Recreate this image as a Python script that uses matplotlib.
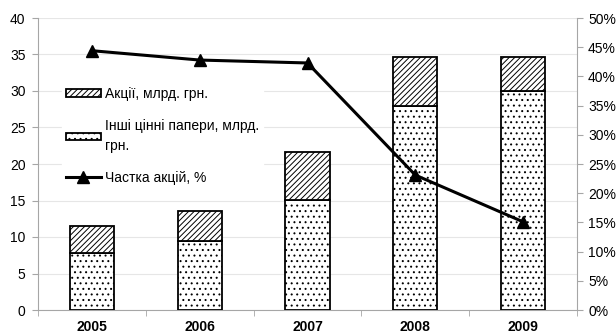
import matplotlib
matplotlib.use("Agg")
import matplotlib.pyplot as plt
from matplotlib.ticker import FuncFormatter
import numpy as np

years = ["2005", "2006", "2007", "2008", "2009"]
shares_bn = [3.65, 4.0, 6.5, 6.7, 4.6]          # Акції, млрд. грн.
other_bn = [7.85, 9.5, 15.1, 27.9, 30.0]        # Інші цінні папери, млрд. грн.
share_pct = [44.4, 42.8, 42.3, 23.1, 15.1]      # Частка акцій, %

plt.rcParams["font.family"] = ["Liberation Sans", "DejaVu Sans"]
plt.rcParams["font.size"] = 10
plt.rcParams["hatch.linewidth"] = 0.7

fig = plt.figure(figsize=(6.16, 3.36), dpi=100)
ax = fig.add_axes([38 / 616, 1 - 310 / 336, (577 - 38) / 616, (310 - 18) / 336])
ax2 = ax.twinx()

x = np.arange(len(years))
w = 0.41
grey = "#a6a6a6"

ax.bar(x, other_bn, w, color="white", edgecolor="black", linewidth=1.3,
       hatch="...", zorder=3)
ax.bar(x, shares_bn, w, bottom=other_bn, color="white", edgecolor="black",
       linewidth=1.3, hatch="//////", zorder=3)

ln, = ax2.plot(x, share_pct, color="black", linewidth=2.2, marker="^",
               markersize=9, zorder=4)

ax.set_xlim(-0.5, len(years) - 0.5)
ax.set_ylim(0, 40)
ax.set_yticks(np.arange(0, 41, 5))
ax2.set_ylim(0, 50)
ax2.set_yticks(np.arange(0, 51, 5))
ax2.yaxis.set_major_formatter(FuncFormatter(lambda v, p: f"{int(v)}%"))

ax.grid(axis="y", color="#e6e6e6", linewidth=0.8, zorder=0)
ax.set_axisbelow(True)

for a in (ax, ax2):
    a.spines["top"].set_visible(False)
ax.spines["right"].set_visible(False)
ax2.spines["left"].set_visible(False)
ax2.spines["bottom"].set_visible(False)
ax.spines["left"].set_color(grey)
ax.spines["bottom"].set_color(grey)
ax2.spines["right"].set_color(grey)

ax.set_xticks(x)
ax.set_xticklabels(years, fontweight="bold")
ax.set_xticks(np.arange(-0.5, len(years)), minor=True)
ax.tick_params(axis="x", which="major", length=0, pad=7)
ax.tick_params(axis="x", which="minor", length=4, color=grey, direction="out")
ax.tick_params(axis="y", length=4, color=grey, pad=5)
ax2.tick_params(axis="y", length=4, color=grey, pad=4)

handles = [ax.containers[1], ax.containers[0], ln]
labels = ["Акції, млрд. грн.", "Інші цінні папери, млрд.\nгрн.", "Частка акцій, %"]
leg = ax2.legend(handles, labels, loc="upper left",
                 bbox_to_anchor=(55 / 616, 1 - 76 / 336),
                 bbox_transform=fig.transFigure, frameon=True, fancybox=False,
                 edgecolor="white", facecolor="white", framealpha=1,
                 handlelength=2.5, handleheight=0.5, labelspacing=1.3,
                 handletextpad=0.3, borderpad=0.3, fontsize=10)
for t in leg.get_texts():
    t.set_linespacing(1.5)
leg.set_zorder(5)

fig.savefig("out.png", dpi=100)
